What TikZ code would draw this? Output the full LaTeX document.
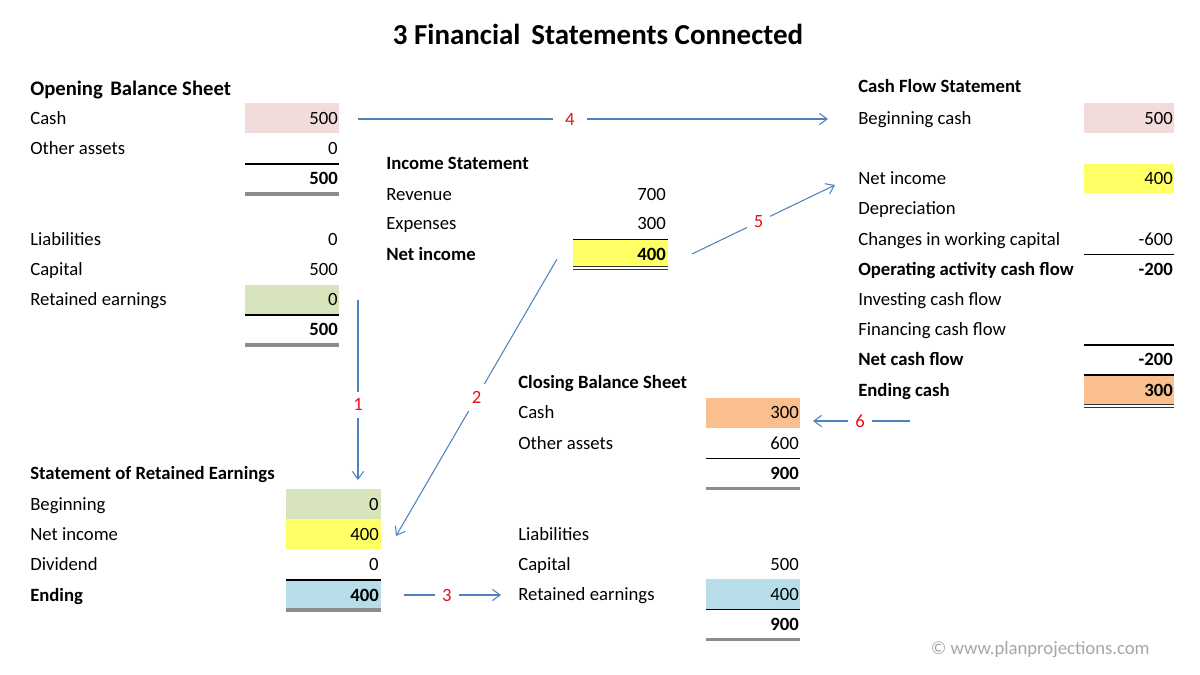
\documentclass[tikz,border=0pt]{standalone}
\usepackage{fontspec}
\setmainfont{Carlito}
\usetikzlibrary{arrows.meta}
\definecolor{pinkc}{HTML}{F2DCDB}
\definecolor{greenc}{HTML}{D8E4BC}
\definecolor{yellowc}{HTML}{FFFF66}
\definecolor{orangec}{HTML}{FABF8F}
\definecolor{bluec}{HTML}{B7DEE8}
\definecolor{arrowc}{HTML}{4F81BD}
\definecolor{redc}{HTML}{E8101A}
\definecolor{grayc}{HTML}{8C8C8C}
\definecolor{copyc}{HTML}{A6A6A6}
\newcommand{\fsz}{\fontsize{13.3}{15}\selectfont}
\tikzset{
  lab/.style={anchor=base west, inner sep=0pt, font=\fsz},
  blab/.style={anchor=base west, inner sep=0pt, font=\fsz\bfseries},
  val/.style={anchor=base east, inner sep=0pt, font=\fsz},
  bval/.style={anchor=base east, inner sep=0pt, font=\fsz\bfseries},
  uline/.style={draw=black, line width=0.8pt},
  dline/.style={draw=grayc, line width=2.2pt},
  ddline/.style={draw=black!80, line width=0.7pt},
  conn/.style={draw=arrowc, line width=0.75pt, -{Straight Barb[length=5.5pt,width=8pt]}},
  numlbl/.style={fill=white, text=redc, font=\fsz, inner sep=5pt},
}
\newcommand{\lab}[4]{\node[lab] (#1) at (#2,#3) {#4};}
\newcommand{\blab}[4]{\node[blab] (#1) at (#2,#3) {#4};}
\newcommand{\val}[4]{\node[val] (#1) at (#2,#3) {#4};}
\newcommand{\bval}[4]{\node[bval] (#1) at (#2,#3) {#4};}
\begin{document}
\begin{tikzpicture}[x=0.025cm,y=-0.025cm]
\useasboundingbox (0,0) rectangle (1200,675);
% title
\node[anchor=base, inner sep=0pt, font=\fontsize{20.6}{24}\selectfont\bfseries] (title) at (598,45) {3 Financial\hspace{3pt} Statements Connected};

% ---------------- Opening Balance Sheet
\fill[pinkc] (245,103) rectangle (339,133);
\fill[greenc] (245,285) rectangle (339,315);
\node[anchor=base west, inner sep=0pt, font=\fontsize{14.7}{17}\selectfont\bfseries] (obsH) at (30,96) {Opening\hspace{2pt} Balance Sheet};
\lab{obsCashL}{30}{125}{Cash} \val{obsCash}{338}{125}{500}
\lab{obsOthL}{30}{155}{Other assets} \val{obsOth}{338}{155}{0}
\draw[uline] (245,164) -- (339,164);
\bval{obsTA}{338}{185}{500}
\draw[dline] (245,194) -- (339,194);
\lab{obsLiabL}{30}{245.5}{Liabilities} \val{obsLiab}{338}{245.5}{0}
\lab{obsCapL}{30}{275.5}{Capital} \val{obsCap}{338}{275.5}{500}
\lab{obsREL}{30}{305.5}{Retained earnings} \val{obsRE}{338}{305.5}{0}
\draw[uline] (245,315) -- (339,315);
\bval{obsTL}{338}{335.5}{500}
\draw[dline] (245,345) -- (339,345);

% ---------------- Income Statement
\fill[yellowc] (573,240) rectangle (668,266);
\blab{isH}{386}{170}{Income Statement}
\lab{isRevL}{386}{200}{Revenue} \val{isRev}{666}{200}{700}
\lab{isExpL}{386}{230}{Expenses} \val{isExp}{666}{230}{300}
\draw[uline] (573,239.5) -- (668,239.5);
\blab{isNIL}{386}{260.5}{Net income} \bval{isNI}{666}{260.5}{400}
\draw[ddline] (573,266.5) -- (668,266.5);
\draw[ddline] (573,269) -- (668,269);

% ---------------- Cash Flow Statement
\fill[pinkc] (1084,103) rectangle (1174,133);
\fill[yellowc] (1084,164) rectangle (1174,193);
\fill[orangec] (1084,375) rectangle (1174,404);
\blab{cfH}{858}{93}{Cash Flow Statement}
\lab{cfBegL}{858}{125}{Beginning cash} \val{cfBeg}{1173}{125}{500}
\lab{cfNIL}{858}{184.5}{Net income} \val{cfNI}{1173}{184.5}{400}
\lab{cfDepL}{858}{214.5}{Depreciation}
\lab{cfWCL}{858}{245.5}{Changes in working capital} \val{cfWC}{1173}{245.5}{-600}
\draw[uline] (1084,254.5) -- (1174,254.5);
\blab{cfOpL}{858}{275.5}{Operating activity cash flow} \bval{cfOp}{1173}{275.5}{-200}
\lab{cfInvL}{858}{305.5}{Investing cash flow}
\lab{cfFinL}{858}{335.5}{Financing cash flow}
\draw[uline] (1084,345) -- (1174,345);
\blab{cfNetL}{858}{365.5}{Net cash flow} \bval{cfNet}{1173}{365.5}{-200}
\draw[uline] (1084,375) -- (1174,375);
\blab{cfEndL}{858}{396}{Ending cash} \bval{cfEnd}{1173}{396}{300}
\draw[ddline] (1084,404.5) -- (1174,404.5);
\draw[ddline] (1084,407) -- (1174,407);

% ---------------- Closing Balance Sheet
\fill[orangec] (706,398) rectangle (800,428);
\fill[bluec] (706,579) rectangle (800,609);
\blab{cbsH}{518}{388.5}{Closing Balance Sheet}
\lab{cbsCashL}{518}{418.5}{Cash} \val{cbsCash}{799}{418.5}{300}
\lab{cbsOthL}{518}{449}{Other assets} \val{cbsOth}{799}{449}{600}
\draw[uline] (706,458.5) -- (800,458.5);
\bval{cbsTA}{799}{479.5}{900}
\draw[dline] (706,488.5) -- (800,488.5);
\lab{cbsLiabL}{518}{540}{Liabilities}
\lab{cbsCapL}{518}{570.5}{Capital} \val{cbsCap}{799}{570.5}{500}
\lab{cbsREL}{518}{600.5}{Retained earnings} \val{cbsRE}{799}{600.5}{400}
\draw[uline] (706,609.5) -- (800,609.5);
\bval{cbsTL}{799}{630.5}{900}
\draw[dline] (706,639.5) -- (800,639.5);

% ---------------- Statement of Retained Earnings
\fill[greenc] (286,489) rectangle (381,519);
\fill[yellowc] (286,519) rectangle (381,549);
\fill[bluec] (286,580) rectangle (381,609);
\blab{sreH}{30}{479.5}{Statement of Retained Earnings}
\lab{sreBegL}{30}{510}{Beginning} \val{sreBeg}{379}{510}{0}
\lab{sreNIL}{30}{540.5}{Net income} \val{sreNI}{379}{540.5}{400}
\lab{sreDivL}{30}{570.5}{Dividend} \val{sreDiv}{379}{570.5}{0}
\draw[uline] (286,580) -- (381,580);
\blab{sreEndL}{30}{601}{Ending} \bval{sreEnd}{379}{601}{400}
\draw[dline] (286,610) -- (381,610);

% ---------------- connectors
\coordinate (a1s) at (358,300); \coordinate (a1e) at (358,480);
\coordinate (a2s) at (557,259); \coordinate (a2e) at (396,536);
\coordinate (a3s) at (404,595); \coordinate (a3e) at (501,595);
\coordinate (a4s) at (358,119); \coordinate (a4e) at (828,119);
\coordinate (a5s) at (692,254); \coordinate (a5e) at (835,185);
\coordinate (a6s) at (910,421); \coordinate (a6e) at (813,421);
\draw[conn] (a1s) -- node[numlbl, pos=0.583] (n1) {1} (a1e);
\draw[conn] (a2s) -- node[numlbl, pos=0.5] (n2) {2} (a2e);
\draw[conn] (a3s) -- node[numlbl, pos=0.443] (n3) {3} (a3e);
\draw[conn] (a4s) -- node[numlbl, pos=0.451, inner xsep=9pt] (n4) {4} (a4e);
\draw[conn] (a5s) -- node[numlbl, pos=0.465] (n5) {5} (a5e);
\draw[conn] (a6s) -- node[numlbl, pos=0.515] (n6) {6} (a6e);

% copyright
\node[anchor=base east, inner sep=0pt, text=copyc, font=\fsz] (copy) at (1150,654) {© www.planprojections.com};
\end{tikzpicture}
\end{document}
